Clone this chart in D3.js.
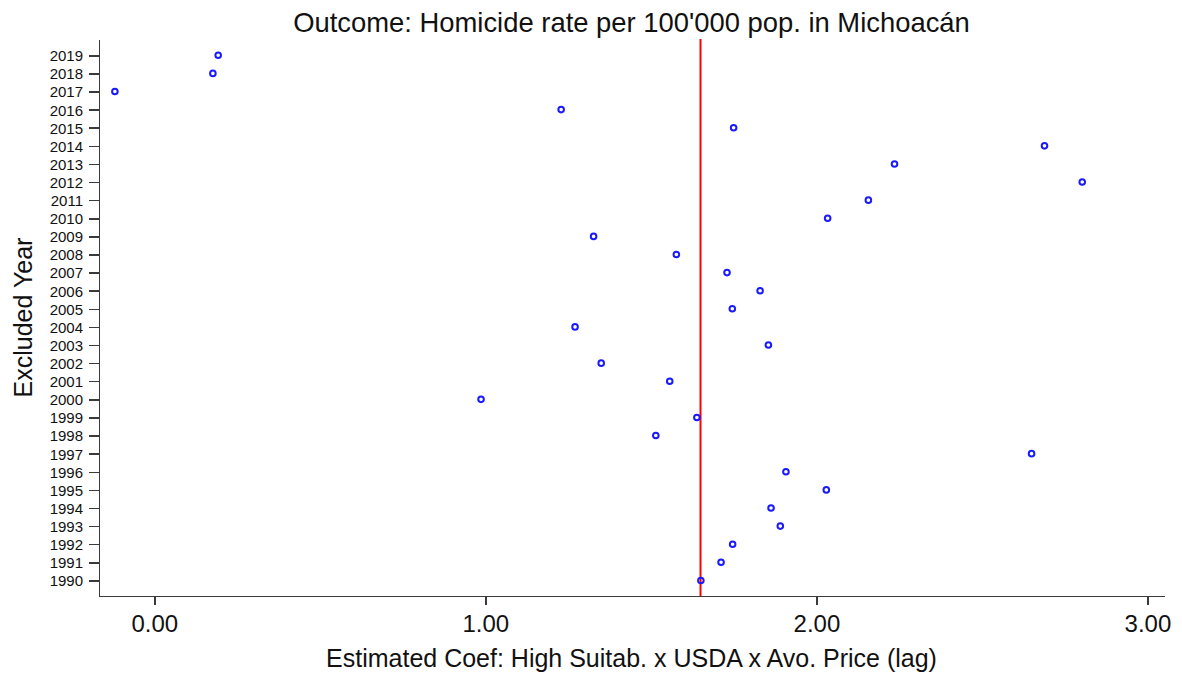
<!DOCTYPE html>
<html>
  <head>
	<meta charset="utf-8">
	<title>Excluded year estimates</title>
	<script src="https://d3js.org/d3.v7.min.js"></script>
	<style>
		body { margin: 0; background: #fff; }
		svg text { font-family: "Liberation Sans", Arial, sans-serif; fill: #111; }
		.axis path, .axis line { stroke: #3a3a3a; stroke-width: 1.5; shape-rendering: crispEdges; }
	</style>
  </head>
  <body>
	<svg id="chart"></svg>
	<script>
		// excluded year -> estimated coefficient
		var years = [2019, 2018, 2017, 2016, 2015, 2014, 2013, 2012, 2011, 2010,
			2009, 2008, 2007, 2006, 2005, 2004, 2003, 2002, 2001, 2000,
			1999, 1998, 1997, 1996, 1995, 1994, 1993, 1992, 1991, 1990];
		var coefs = [0.193, 0.177, -0.119, 1.229, 1.750, 2.689, 2.236, 2.803, 2.157, 2.034,
			1.327, 1.577, 1.730, 1.830, 1.746, 1.271, 1.855, 1.350, 1.557, 0.987,
			1.639, 1.515, 2.650, 1.908, 2.030, 1.863, 1.891, 1.747, 1.712, 1.651];
		var fullSample = 1.65;
		var xTicks = [0, 1, 2, 3];

		var W = 1182, H = 678;
		var margin = {top: 39, right: 18, bottom: 82, left: 99};
		var width = W - margin.left - margin.right,
			height = H - margin.top - margin.bottom;

		var svg = d3.select("#chart").attr("width", W).attr("height", H);
		var g = svg.append("g")
			.attr("transform", "translate(" + margin.left + "," + margin.top + ")");

		var x = d3.scaleLinear().domain([-0.167, 3.05]).range([0, width]);
		var y = d3.scaleLinear().domain([1989.14, 2019.9]).range([height, 0]);

		var points = years.map(function(yr, i) { return {year: yr, coef: coefs[i]}; });

		g.append("g")
			.attr("class", "axis")
			.attr("transform", "translate(0," + height + ")")
			.call(d3.axisBottom(x).tickValues(xTicks).tickFormat(d3.format(".2f")).tickSize(9).tickSizeOuter(0).tickPadding(10))
			.call(function(a) { a.selectAll("text").attr("font-size", 24).style("font-family", null); });

		g.append("g")
			.attr("class", "axis")
			.call(d3.axisLeft(y).tickValues(years).tickFormat(d3.format("d")).tickSize(10).tickSizeOuter(0).tickPadding(6))
			.call(function(a) { a.selectAll("text").attr("font-size", 15).attr("dy", "0.36em").style("font-family", null); });

		g.selectAll(".domain").attr("stroke", "#3a3a3a");

		g.append("line")
			.attr("x1", x(fullSample)).attr("x2", x(fullSample))
			.attr("y1", 0).attr("y2", height)
			.attr("stroke", "#ff0000")
			.attr("stroke-width", 2);

		g.selectAll(".pt")
			.data(points)
			.enter().append("circle")
			.attr("class", "pt")
			.attr("cx", function(d) { return x(d.coef); })
			.attr("cy", function(d) { return y(d.year); })
			.attr("r", 2.8)
			.attr("fill", "none")
			.attr("stroke", "#1a1aff")
			.attr("stroke-width", 2);

		svg.append("text")
			.attr("x", margin.left + width / 2)
			.attr("y", 32)
			.attr("text-anchor", "middle")
			.attr("font-size", 27.4)
			.text("Outcome: Homicide rate per 100'000 pop. in Michoacán");

		svg.append("text")
			.attr("x", margin.left + width / 2)
			.attr("y", 667)
			.attr("text-anchor", "middle")
			.attr("font-size", 25)
			.text("Estimated Coef: High Suitab. x USDA x Avo. Price (lag)");

		svg.append("text")
			.attr("transform", "translate(32," + (margin.top + height / 2) + ") rotate(-90)")
			.attr("text-anchor", "middle")
			.attr("font-size", 25)
			.text("Excluded Year");
	</script>
  </body>
</html>
